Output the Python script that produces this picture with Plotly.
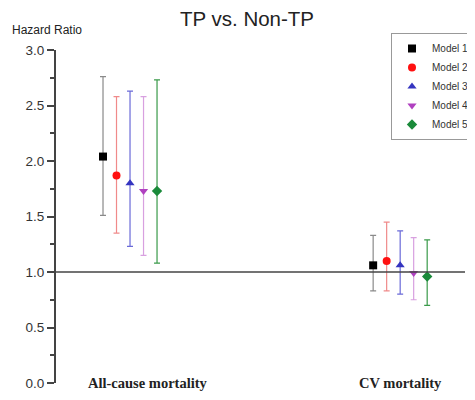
import plotly.graph_objects as go

categories = ["All-cause mortality", "CV mortality"]
models = ["Model 1", "Model 2", "Model 3", "Model 4", "Model 5"]
hr = [[2.04, 1.06], [1.87, 1.10], [1.80, 1.06], [1.73, 0.99], [1.73, 0.96]]
upper = [[2.76, 1.33], [2.58, 1.45], [2.63, 1.37], [2.58, 1.31], [2.73, 1.29]]
lower = [[1.51, 0.83], [1.35, 0.83], [1.23, 0.80], [1.15, 0.75], [1.08, 0.70]]
ref_value = 1.0

marker_colors = ["#000000", "#ff1010", "#3535c0", "#b040c0", "#1a8a3a"]
err_colors = ["#8a8a8a", "#f08a8a", "#6a6ad8", "#d8a0e0", "#3a9a4a"]
symbols = ["square", "circle", "triangle-up", "triangle-down", "diamond"]
spacing = 0.05
label_shift = [18, 0]

# page is rendered with an 8px body margin, so the figure is 8px smaller
W, H = 467, 392
L, R, T, B = 48, 10, 42, 17
PW, PH = W - L - R, H - T - B

fig = go.Figure()
for j, m in enumerate(models):
    xs = [i + (j - 2) * spacing for i in range(len(categories))]
    fig.add_trace(go.Scatter(
        x=xs, y=hr[j], mode="markers", name=m,
        marker=dict(symbol=symbols[j], color=marker_colors[j], size=8),
        error_y=dict(type="data", symmetric=False,
                     array=[u - v for u, v in zip(upper[j], hr[j])],
                     arrayminus=[v - l for v, l in zip(hr[j], lower[j])],
                     color=err_colors[j], thickness=1.2, width=3),
    ))

fig.add_shape(type="line", xref="paper", x0=0, x1=1, yref="y", y0=ref_value, y1=ref_value,
              line=dict(color="#444444", width=1.5))

for i, c in enumerate(categories):
    fig.add_annotation(x=i, y=0, xref="x", yref="y", text=c, showarrow=False, xshift=label_shift[i],
                       font=dict(family="Liberation Serif, Times New Roman, serif", size=14.5, color="#222",
                                 weight="bold"),
                       yanchor="middle", xanchor="center")

fig.add_annotation(text="Hazard Ratio", showarrow=False, xref="paper", yref="paper",
                   x=-46 / PW, y=1 + 20 / PH, xanchor="left", yanchor="middle",
                   font=dict(family="Arial, Liberation Sans", size=12, color="#222"))

fig.update_layout(
    width=W, height=H,
    margin=dict(l=L, r=R, t=T, b=B, autoexpand=False),
    paper_bgcolor="white", plot_bgcolor="white",
    title=dict(text="TP vs. Non-TP", x=239 / W, xanchor="center", xref="container",
               y=1 - 11 / H, yref="container", yanchor="middle",
               font=dict(family="Arial, Liberation Sans", size=20.5, color="#222")),
    xaxis=dict(range=[-0.274, 1.24], visible=False),
    yaxis=dict(range=[0, 3], tickvals=[0, 0.5, 1, 1.5, 2, 2.5, 3], tickformat=".1f",
               automargin=False,
               showgrid=False, zeroline=False, showline=True, linecolor="#444", linewidth=2,
               ticks="outside", ticklen=7, tickwidth=2, tickcolor="#444",
               minor=dict(dtick=0.25, ticks="outside", ticklen=4, tickcolor="#444", tickwidth=1.5),
               tickfont=dict(family="Arial, Liberation Sans", size=13.5, color="#333")),
    showlegend=True,
    legend=dict(x=(383 - L) / PW, y=1 + 17 / PH, xanchor="left", yanchor="top", bordercolor="#999", borderwidth=1,
                bgcolor="white", font=dict(family="Arial, Liberation Sans", size=10, color="#333"),
                itemwidth=30, tracegroupgap=2),
)

fig.write_html("out.html")
